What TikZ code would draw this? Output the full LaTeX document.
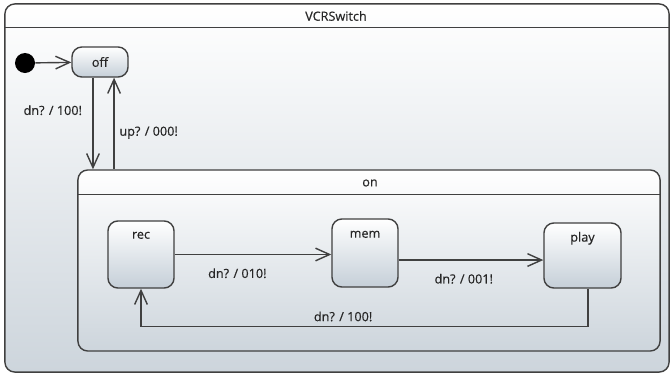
\documentclass[tikz,border=0pt]{standalone}
\usepackage{fontspec}
\setmainfont{Open Sans}[FakeBold=0.4]
\usetikzlibrary{arrows.meta, positioning, calc}
\definecolor{lineclr}{HTML}{404040}
\definecolor{shadeclr}{HTML}{CDD5DC}
\definecolor{stateclr}{HTML}{C5CFD8}

\begin{document}
\begin{tikzpicture}[
    x=0.025cm, y=-0.025cm,
    font=\fontsize{9}{11}\selectfont, text=black!85,
    region/.style={draw=lineclr, line width=1pt, rounded corners=7pt,
                   top color=white, bottom color=shadeclr, inner sep=0pt},
    stbox/.style={draw=lineclr, line width=1pt, rounded corners=7pt,
                  top color=white, bottom color=stateclr, inner sep=0pt},
    startdot/.style={circle, fill=black, minimum size=0.5cm, inner sep=0pt},
    arrow/.style={-{Straight Barb[length=10pt,width=9pt]}, draw=lineclr, line width=1pt},
    sep/.style={draw=lineclr, line width=1pt}
]
    \useasboundingbox (0,0) rectangle (672,375);

    % outer region
    \node[region, minimum width=16.6cm, minimum height=9.2cm] (vcr) at (337,188) {};
    \node (vcrname) at (336,16) {VCRSwitch};
    \draw[sep] ($(vcr.north west)+(0,24)$) -- ($(vcr.north east)+(0,24)$);

    \node[startdot] (init) at (25,63) {};
    \node[stbox, minimum width=1.4cm, minimum height=0.75cm] (off) at (100,62) {off};

    % composite state
    \node[region, minimum width=14.55cm, minimum height=4.525cm] (on) at (369,260.5) {};
    \node (onname) at (370,183) {on};
    \draw[sep] ($(on.north west)+(0,25)$) -- ($(on.north east)+(0,25)$);

    \node[stbox, minimum width=1.65cm, minimum height=1.675cm,
          label={[anchor=center, yshift=-10.7pt]north:rec}] (rec) at (141,254.5) {};
    \node[stbox, minimum width=1.65cm, minimum height=1.7cm,
          label={[anchor=center, yshift=-11.4pt]north:mem}] (mem) at (365,253) {};
    \node[stbox, minimum width=1.925cm, minimum height=1.625cm,
          label={[anchor=center, yshift=-11.4pt]north:play}] (play) at (582.5,255.5) {};

    \draw[arrow] (init) -- (off);
    \draw[arrow] ([xshift=-5pt]off.south) -- ([xshift=-5pt]off.south |- on.north)
        node[pos=0.355, left=4pt] {dn? / 100!};
    \draw[arrow] ([xshift=10pt]off.south |- on.north) -- ([xshift=10pt]off.south)
        node[pos=0.4, right] {up? / 000!};

    \draw[arrow] (rec.east) -- (rec.east -| mem.west)
        node[pos=0.4, below=6pt] {dn? / 010!};
    \draw[arrow] ([yshift=-5pt]mem.east) -- ([yshift=-5pt]mem.east -| play.west)
        node[pos=0.45, below=6pt] {dn? / 001!};
    \draw[arrow] ([xshift=4pt]play.south) -- ++(0,38) -| (rec.south)
        node[pos=0.274, above] {dn? / 100!};
\end{tikzpicture}
\end{document}
